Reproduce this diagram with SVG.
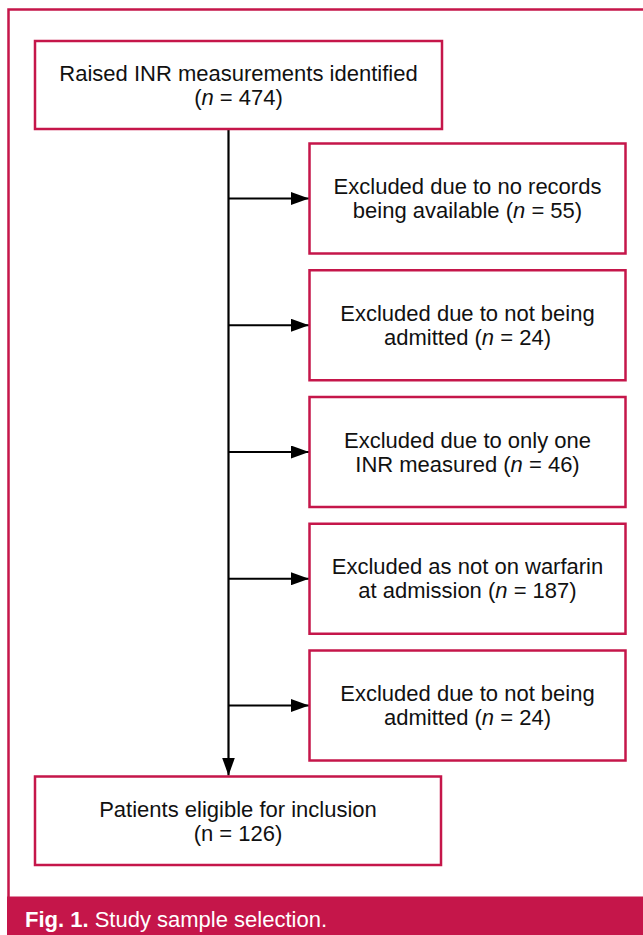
<svg xmlns="http://www.w3.org/2000/svg" width="643" height="935" viewBox="0 0 643 935">
<style>
.box{fill:#fff;stroke:#C5164A;stroke-width:2.5}
.t{font-family:"Liberation Sans",Arial,Helvetica,sans-serif;font-size:22px;fill:#111;text-anchor:middle}
.i{font-style:italic}
.ln{stroke:#000;stroke-width:2.2;fill:none}
.cap{font-family:"Liberation Sans",Arial,Helvetica,sans-serif;font-size:22px;fill:#fff}
</style>
<defs>
<marker id="ah" markerWidth="18" markerHeight="13" refX="18" refY="6.5" orient="auto" markerUnits="userSpaceOnUse">
<path d="M0,0 L18,6.5 L0,13 Z" fill="#000"/>
</marker>
</defs>
<rect x="0" y="0" width="643" height="935" fill="#fff"/>
<rect x="8.5" y="9.5" width="700" height="900" fill="none" stroke="#C5164A" stroke-width="2.5"/>
<g id="connectors">
<line class="ln" x1="228.5" y1="129" x2="228.5" y2="775.5" marker-end="url(#ah)"/>
<line class="ln" x1="228.5" y1="198.5" x2="309" y2="198.5" marker-end="url(#ah)"/>
<line class="ln" x1="228.5" y1="325.25" x2="309" y2="325.25" marker-end="url(#ah)"/>
<line class="ln" x1="228.5" y1="452" x2="309" y2="452" marker-end="url(#ah)"/>
<line class="ln" x1="228.5" y1="578.75" x2="309" y2="578.75" marker-end="url(#ah)"/>
<line class="ln" x1="228.5" y1="705.5" x2="309" y2="705.5" marker-end="url(#ah)"/>
</g>
<g id="n_top">
<rect class="box" x="35" y="41" width="407" height="88"/>
<text class="t" x="238.5" y="81">Raised INR measurements identified</text>
<text class="t" x="238.5" y="105">(<tspan class="i">n</tspan> = 474)</text>
</g>
<g id="n_ex1">
<rect class="box" x="309.5" y="143.5" width="316" height="110"/>
<text class="t" x="467.5" y="194">Excluded due to no records</text>
<text class="t" x="467.5" y="218">being available (<tspan class="i">n</tspan> = 55)</text>
</g>
<g id="n_ex2">
<rect class="box" x="309.5" y="270.25" width="316" height="110"/>
<text class="t" x="467.5" y="320.75">Excluded due to not being</text>
<text class="t" x="467.5" y="344.75">admitted (<tspan class="i">n</tspan> = 24)</text>
</g>
<g id="n_ex3">
<rect class="box" x="309.5" y="397" width="316" height="110"/>
<text class="t" x="467.5" y="447.5">Excluded due to only one</text>
<text class="t" x="467.5" y="471.5">INR measured (<tspan class="i">n</tspan> = 46)</text>
</g>
<g id="n_ex4">
<rect class="box" x="309.5" y="523.75" width="316" height="110"/>
<text class="t" x="467.5" y="574.25">Excluded as not on warfarin</text>
<text class="t" x="467.5" y="598.25">at admission (<tspan class="i">n</tspan> = 187)</text>
</g>
<g id="n_ex5">
<rect class="box" x="309.5" y="650.5" width="316" height="110"/>
<text class="t" x="467.5" y="701">Excluded due to not being</text>
<text class="t" x="467.5" y="725">admitted (<tspan class="i">n</tspan> = 24)</text>
</g>
<g id="n_bottom">
<rect class="box" x="35" y="776.5" width="406" height="88.5"/>
<text class="t" x="238" y="817">Patients eligible for inclusion</text>
<text class="t" x="238" y="841">(n = 126)</text>
</g>
<g id="caption">
<rect x="7" y="896.5" width="636" height="38.5" fill="#C5164A"/>
<text class="cap" x="25" y="927"><tspan font-weight="bold">Fig. 1.</tspan> Study sample selection.</text>
</g>
</svg>
